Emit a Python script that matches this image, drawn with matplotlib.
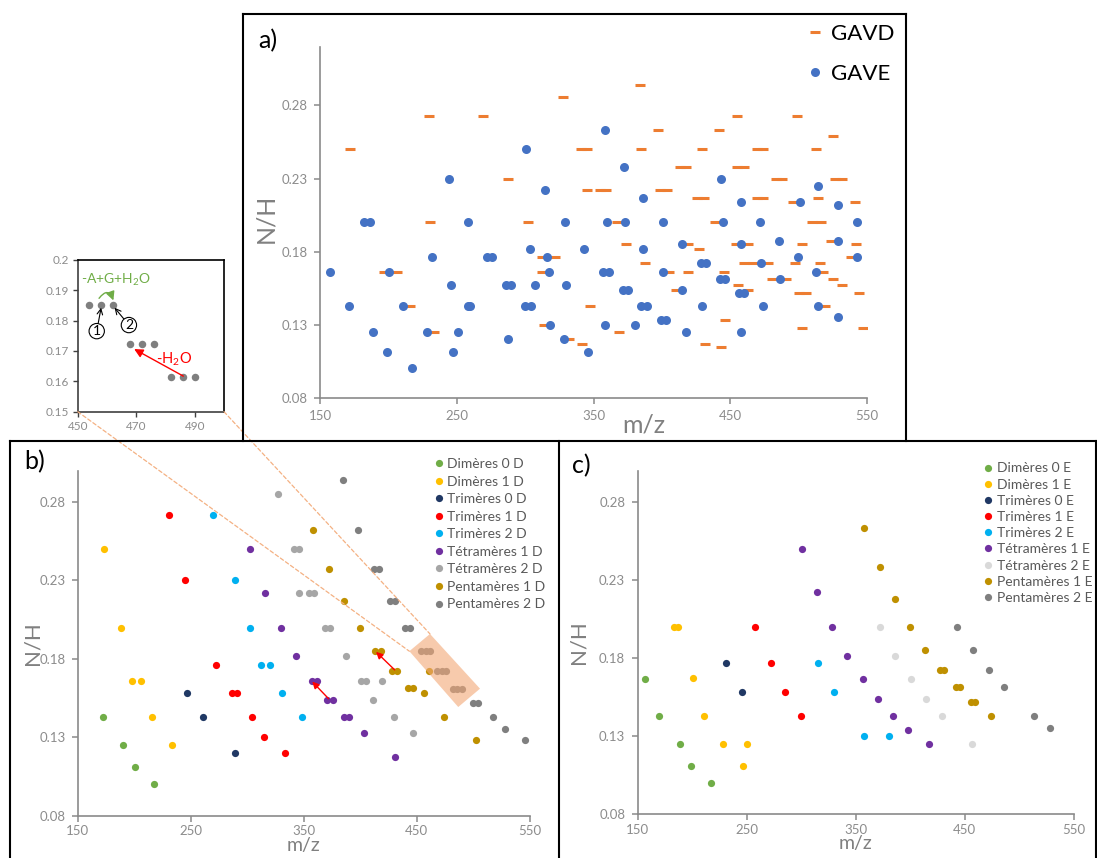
import matplotlib
matplotlib.use("Agg")
import matplotlib.pyplot as plt
from matplotlib.lines import Line2D
from matplotlib.patches import Polygon, FancyArrowPatch, ConnectionPatch

plt.rcParams['font.family'] = ['Lato', 'DejaVu Sans']
plt.rcParams['mathtext.default'] = 'regular'

# ---------------- data ----------------
xticks = [150, 250, 350, 450, 550]
yticks = [0.08, 0.13, 0.18, 0.23, 0.28]

# panel a
gavd_mz = [172, 230, 269.5, 230.5, 287.5, 302, 327.5, 384, 197, 206, 215.5, 233.5,
           340.5, 345.5, 345.5, 354.5, 359.5, 397.5, 385, 398.5, 404, 413.5, 418,
           426, 430.5, 442, 429, 455, 455, 460, 469.5, 474, 469.5, 474, 483.5, 488,
           499, 513, 525.5, 526.5, 532, 514, 496, 541.5, 438.5, 367.5, 510, 516,
           373.5, 419, 454, 463, 502.5, 524, 542, 427.5, 312, 322, 387.5, 460,
           466.5, 477.5, 497.5, 515.5, 538, 312, 405, 419, 445.5, 518, 480.5, 491,
           525.5, 455.5, 531.5, 410, 463, 500.5, 505.5, 544.5, 347.5, 519.5, 313.5,
           446.5, 369, 332, 341.5, 431.5, 443, 502.5, 547]
gavd_nh = [0.250, 0.273, 0.273, 0.200, 0.230, 0.200, 0.2855, 0.294, 0.166, 0.166, 0.143, 0.125,
           0.250, 0.250, 0.222, 0.222, 0.222, 0.263, 0.250, 0.222, 0.222, 0.238, 0.238,
           0.217, 0.217, 0.263, 0.250, 0.273, 0.238, 0.238, 0.250, 0.250, 0.217, 0.217, 0.230, 0.230,
           0.273, 0.250, 0.259, 0.230, 0.230, 0.217, 0.214, 0.214, 0.200, 0.200, 0.200, 0.200,
           0.185, 0.185, 0.185, 0.185, 0.185, 0.187, 0.185, 0.182, 0.176, 0.176, 0.1725, 0.1725,
           0.1725, 0.1725, 0.1725, 0.1725, 0.176, 0.166, 0.166, 0.166, 0.166, 0.166, 0.161, 0.161,
           0.161, 0.157, 0.157, 0.154, 0.154, 0.1515, 0.1515, 0.1515, 0.143, 0.143, 0.130,
           0.133, 0.125, 0.120, 0.117, 0.117, 0.115, 0.128, 0.128]

gave_mz = [157, 171, 182, 186.5, 189, 199, 200.5, 210.5, 217, 228.5, 232, 244, 245.5, 247,
           251, 258, 258, 259.5, 272, 276, 286, 289.5, 287.5, 301, 300, 304, 303.5, 307.5,
           314.5, 316, 317.5, 318, 328.5, 329, 330, 343, 346, 358.5, 357, 361, 358.5, 360,
           372.5, 371.5, 375, 373, 380, 384.5, 389, 386, 386.5, 399.5, 403, 400.5, 401,
           414.5, 415, 417.5, 428.5, 432, 429, 443, 442.5, 446, 444.5, 456.5, 460, 457.5,
           458, 457.5, 471.5, 472.5, 474, 485.5, 486.5, 499.5, 501, 514, 513, 514, 528.5,
           529, 528.5, 542.5, 543]
gave_nh = [0.166, 0.143, 0.200, 0.200, 0.125, 0.111, 0.166, 0.143, 0.100, 0.125, 0.176, 0.230, 0.157, 0.111,
           0.125, 0.200, 0.143, 0.143, 0.176, 0.176, 0.157, 0.157, 0.120, 0.250, 0.143, 0.143, 0.182, 0.157,
           0.222, 0.176, 0.166, 0.130, 0.120, 0.200, 0.157, 0.182, 0.111, 0.263, 0.166, 0.166, 0.130, 0.200,
           0.238, 0.154, 0.154, 0.200, 0.130, 0.143, 0.143, 0.217, 0.182, 0.133, 0.133, 0.200, 0.166,
           0.185, 0.154, 0.125, 0.1725, 0.1725, 0.143, 0.230, 0.161, 0.161, 0.200, 0.1515, 0.1515, 0.214,
           0.185, 0.125, 0.200, 0.1725, 0.143, 0.187, 0.161, 0.176, 0.214, 0.225, 0.166, 0.143, 0.212,
           0.187, 0.135, 0.200, 0.176]

# panel b (D series)
dim0_d_mz = [172, 189.5, 200.5, 217.5]
dim0_d_nh = [0.143, 0.125, 0.111, 0.100]
dim1_d_mz = [173.5, 188, 198, 205.5, 216, 233.5]
dim1_d_nh = [0.250, 0.200, 0.166, 0.166, 0.143, 0.125]
tri0_d_mz = [247, 260.5, 289]
tri0_d_nh = [0.158, 0.143, 0.120]
tri1_d_mz = [231, 244.5, 272.5, 286.5, 290.5, 304.5, 314.5, 333]
tri1_d_nh = [0.272, 0.230, 0.176, 0.158, 0.158, 0.143, 0.130, 0.120]
tri2_d_mz = [270, 289, 302.5, 312, 320.5, 330.5, 348.5]
tri2_d_nh = [0.272, 0.230, 0.200, 0.176, 0.176, 0.158, 0.143]
tet1_d_mz = [302, 315.5, 329.5, 343, 357, 361.5, 371, 375.5, 385.5, 390, 403, 431]
tet1_d_nh = [0.250, 0.222, 0.200, 0.182, 0.166, 0.166, 0.154, 0.154, 0.143, 0.143, 0.133, 0.1175]
tet2_d_mz = [327, 341.5, 346, 345.5, 355, 359.5, 369, 373.5, 387, 400.5, 405, 419.5, 411.5, 429.5, 447]
tet2_d_nh = [0.285, 0.250, 0.250, 0.222, 0.222, 0.222, 0.200, 0.200, 0.182, 0.166, 0.166, 0.166,
             0.154, 0.143, 0.133]
pen1_d_mz = [358.5, 372.5, 386, 400, 413.5, 418, 428.5, 432.5, 442.5, 447, 456.5, 460.5, 474, 502.5]
pen1_d_nh = [0.2625, 0.2375, 0.217, 0.200, 0.185, 0.185, 0.172, 0.172, 0.1615, 0.1615, 0.158,
             0.172, 0.143, 0.128]
pen2_d_mz = [384.5, 398, 412.5, 417, 426.5, 430.5, 440, 444.5, 454, 458, 462, 468, 472, 476,
             482, 486, 490, 500, 504, 518, 528, 546]
pen2_d_nh = [0.294, 0.2625, 0.2375, 0.2375, 0.217, 0.217, 0.200, 0.200, 0.185, 0.185, 0.185,
             0.1725, 0.1725, 0.1725, 0.161, 0.161, 0.161, 0.1518, 0.1518, 0.143, 0.135, 0.128]

# panel c (E series)
dim0_e_mz = [156.5, 170, 189, 198.5, 217]
dim0_e_nh = [0.1668, 0.143, 0.125, 0.111, 0.100]
dim1_e_mz = [183, 187, 200.5, 211, 228.5, 250.5, 247]
dim1_e_nh = [0.200, 0.200, 0.167, 0.143, 0.125, 0.125, 0.111]
tri0_e_mz = [231.5, 245.5]
tri0_e_nh = [0.1766, 0.158]
tri1_e_mz = [258, 272, 285.5, 300]
tri1_e_nh = [0.200, 0.1766, 0.158, 0.143]
tri2_e_mz = [315.5, 330, 358, 380.5]
tri2_e_nh = [0.1766, 0.158, 0.130, 0.130]
tet1_e_mz = [300.5, 314.5, 328.5, 342.5, 356.5, 370.5, 384.5, 398.5, 417]
tet1_e_nh = [0.250, 0.222, 0.200, 0.1815, 0.1668, 0.154, 0.143, 0.1336, 0.125]
tet2_e_mz = [372.5, 386.5, 401, 414.5, 429, 456.5]
tet2_e_nh = [0.200, 0.1815, 0.1668, 0.154, 0.143, 0.125]
pen1_e_mz = [358, 372, 386, 399.5, 413.5, 427.5, 431.5, 442, 445.5, 455.5, 459.5, 474.5]
pen1_e_nh = [0.263, 0.238, 0.2175, 0.200, 0.1853, 0.1723, 0.1723, 0.1613, 0.1613, 0.1515,
             0.1515, 0.143]
pen2_e_mz = [443.5, 458, 472, 486, 513.5, 528]
pen2_e_nh = [0.200, 0.1853, 0.1723, 0.1613, 0.143, 0.1353]

# inset (zoom on pentamers 2 D)
zoom_mz = [454, 458, 462, 468, 472, 476, 482, 486, 490]
zoom_nh = [0.185, 0.185, 0.185, 0.1723, 0.1723, 0.1723, 0.1613, 0.1613, 0.1613]
zoom_xticks = [450, 470, 490]
zoom_yticks = [0.15, 0.16, 0.17, 0.18, 0.19, 0.2]

series_labels = ['Dimères 0', 'Dimères 1', 'Trimères 0', 'Trimères 1', 'Trimères 2',
                 'Tétramères 1', 'Tétramères 2', 'Pentamères 1', 'Pentamères 2']
colors_d = ['#70ad47', '#ffc000', '#203864', '#ff0000', '#00b0f0',
            '#7030a0', '#a6a6a6', '#bf9000', '#7f7f7f']
colors_e = ['#70ad47', '#ffc000', '#203864', '#ff0000', '#00b0f0',
            '#7030a0', '#d9d9d9', '#bf9000', '#7f7f7f']

d_series = [(dim0_d_mz, dim0_d_nh), (dim1_d_mz, dim1_d_nh), (tri0_d_mz, tri0_d_nh),
            (tri1_d_mz, tri1_d_nh), (tri2_d_mz, tri2_d_nh), (tet1_d_mz, tet1_d_nh),
            (tet2_d_mz, tet2_d_nh), (pen1_d_mz, pen1_d_nh), (pen2_d_mz, pen2_d_nh)]
e_series = [(dim0_e_mz, dim0_e_nh), (dim1_e_mz, dim1_e_nh), (tri0_e_mz, tri0_e_nh),
            (tri1_e_mz, tri1_e_nh), (tri2_e_mz, tri2_e_nh), (tet1_e_mz, tet1_e_nh),
            (tet2_e_mz, tet2_e_nh), (pen1_e_mz, pen1_e_nh), (pen2_e_mz, pen2_e_nh)]

# ---------------- figure ----------------
W, H = 1097, 858
fig = plt.figure(figsize=(W / 100, H / 100), dpi=100)


def px_rect(l, t, r, b):
    return [l / W, 1 - b / H, (r - l) / W, (b - t) / H]


def fx(x):
    return x / W


def fy(y):
    return 1 - y / H


AXCOL = '#8a8a8a'
TICKCOL = '#8c8c8c'
LABCOL = '#808080'


def style_axes(ax, ytop):
    ax.set_xlim(150, 550)
    ax.set_ylim(0.08, ytop)
    ax.set_xticks(xticks)
    ax.set_yticks(yticks)
    ax.set_yticklabels(['%.2f' % v for v in yticks])
    for s in ['top', 'right']:
        ax.spines[s].set_visible(False)
    for s in ['left', 'bottom']:
        ax.spines[s].set_color(AXCOL)
        ax.spines[s].set_linewidth(1.2)
    ax.tick_params(direction='out', length=4, width=1.1, color=AXCOL,
                   labelcolor=TICKCOL, labelsize=9.5, pad=5)


ax_a = fig.add_axes(px_rect(320, 47, 867, 397.7))
ax_b = fig.add_axes(px_rect(77.9, 470.7, 529.6, 815.7))
ax_c = fig.add_axes(px_rect(637.7, 470.7, 1073.5, 814))
ax_in = fig.add_axes(px_rect(77.7, 259.7, 224, 411.7))

# ---- panel a
style_axes(ax_a, 0.32)
ax_a.plot(gavd_mz, gavd_nh, ls='none', marker='_', ms=7, mew=2.2, color='#ed7d31', label='GAVD')
ax_a.plot(gave_mz, gave_nh, ls='none', marker='o', ms=6.5, mec='none', color='#4472c4', label='GAVE')
ax_a.set_xlabel('m/z', fontsize=18, color=LABCOL)
ax_a.xaxis.set_label_coords(0.592, -0.078)
ax_a.xaxis.label.set_verticalalignment('center')
ax_a.set_ylabel('N/H', fontsize=18, color=LABCOL)
ax_a.yaxis.set_label_coords(-0.0995, 0.512)
ax_a.yaxis.label.set_verticalalignment('center')
ax_a.legend(loc='upper left', bbox_to_anchor=(fx(806.5), fy(24)), bbox_transform=fig.transFigure,
            frameon=False, fontsize=16, handlelength=0.8, handletextpad=0.3, labelspacing=0.9,
            borderpad=0, borderaxespad=0)

# ---- panels b and c
for ax, series, cols, suffix, leg_pos, pad, spacing in [
        (ax_b, d_series, colors_d, 'D', (434.4, 458.0), 0.29, 0.40),
        (ax_c, e_series, colors_e, 'E', (983.8, 462.5), 0.35, 0.30)]:
    style_axes(ax, 0.30)
    ax.tick_params(axis='x', pad=3)
    for (mz, nh), col, lab in zip(series, cols, series_labels):
        ax.plot(mz, nh, ls='none', marker='o', ms=5.2, mec='none', color=col,
                label=lab + ' ' + suffix)
    ax.set_xlabel('m/z', fontsize=14, color=LABCOL)
    ax.xaxis.label.set_verticalalignment('top')
    ax.set_ylabel('N/H', fontsize=16, color=LABCOL)
    ax.yaxis.label.set_verticalalignment('center')
    ax.legend(loc='upper left', bbox_to_anchor=(fx(leg_pos[0]), fy(leg_pos[1])),
              bbox_transform=fig.transFigure, frameon=False, fontsize=10,
              labelcolor='#595959', handlelength=0.6, handletextpad=pad,
              labelspacing=spacing, borderpad=0, borderaxespad=0)

ax_b.xaxis.set_label_coords(0.5, -0.061)
ax_b.yaxis.set_label_coords(-0.1016, 0.50)
ax_c.xaxis.set_label_coords(0.5, -0.062)
ax_c.yaxis.set_label_coords(-0.1356, 0.502)

# highlighted cluster in panel b
box = Polygon([(461.8, 0.1959), (443.5, 0.1849), (486.8, 0.1493), (506.1, 0.161)],
              closed=True, fc='#f3a876', ec='none', alpha=0.6, zorder=5)
ax_b.add_patch(box)

# red arrows in panel b
for tail, head in [((372, 0.1546), (357.5, 0.1655)), ((430.5, 0.173), (414, 0.1845))]:
    ax_b.annotate('', xy=head, xytext=tail,
                  arrowprops=dict(arrowstyle='-|>', color='#ff0000', lw=1.0,
                                  mutation_scale=10, shrinkA=0, shrinkB=0), zorder=6)

# ---- inset
ax_in.set_xlim(450, 500)
ax_in.set_ylim(0.15, 0.2)
ax_in.set_xticks(zoom_xticks)
ax_in.set_yticks(zoom_yticks)
ax_in.set_yticklabels(['%g' % v for v in zoom_yticks])
for s in ['top', 'right']:
    ax_in.spines[s].set_color('black')
for s in ['left', 'bottom']:
    ax_in.spines[s].set_color('#404040')
for s in ax_in.spines.values():
    s.set_linewidth(1.2)
ax_in.tick_params(direction='out', length=3.5, width=1, color='#404040',
                  labelcolor=TICKCOL, labelsize=8.5, pad=3)
ax_in.plot(zoom_mz, zoom_nh, ls='none', marker='o', ms=5.4, mec='none', color='#7f7f7f')

green = '#70ad47'
ax_in.text(463.1, 0.1935, '-A+G+H$_2$O', color=green, fontsize=10, ha='center', va='center')
ax_in.add_patch(FancyArrowPatch((457.3, 0.1873), (462.2, 0.1866),
                                connectionstyle='arc3,rad=-0.9', arrowstyle='-|>',
                                mutation_scale=13, color=green, lw=1.0,
                                shrinkA=0, shrinkB=0))
for num, txt_pos, target in [('1', (456.5, 0.1765), (458, 0.1842)),
                             ('2', (467.5, 0.1785), (462.6, 0.1842))]:
    ax_in.annotate(num, xy=target, xytext=txt_pos, ha='center', va='center', fontsize=10,
                   bbox=dict(boxstyle='circle,pad=0.12', fc='white', ec='black', lw=0.8),
                   arrowprops=dict(arrowstyle='->', color='black', lw=0.8,
                                   shrinkA=0, shrinkB=0))
ax_in.annotate('', xy=(469.3, 0.1706), xytext=(486.1, 0.1617),
               arrowprops=dict(arrowstyle='-|>', color='#ff0000', lw=1.0,
                               mutation_scale=13, shrinkA=0, shrinkB=0))
ax_in.text(483, 0.1672, '-H$_2$O', color='#ff0000', fontsize=10.5, ha='center', va='center')

# dashed connectors inset -> highlighted box
for pa, pb in [((450, 0.15), (443.5, 0.1849)), ((500, 0.15), (461.8, 0.1959))]:
    con = ConnectionPatch(xyA=pa, coordsA=ax_in.transData, xyB=pb, coordsB=ax_b.transData,
                          color='#f4b183', lw=0.9, ls=(0, (3, 2)))
    fig.add_artist(con)

# ---- panel frames
frame_lines = [
    [(243, 441), (243, 14)], [(243, 14), (906, 14)], [(906, 14), (906, 441)],
    [(10, 441), (1097, 441)], [(10, 441), (10, 858)], [(559, 441), (559, 858)],
    [(1095.5, 441), (1095.5, 858)],
]
for (x0, y0), (x1, y1) in frame_lines:
    fig.add_artist(Line2D([fx(x0), fx(x1)], [fy(y0), fy(y1)], transform=fig.transFigure,
                          color='black', lw=1.5))

for lab, (x, y) in [('a)', (268, 41)), ('b)', (35, 462)), ('c)', (581, 466))]:
    fig.text(fx(x), fy(y), lab, fontsize=18, ha='center', va='center', color='black')

fig.savefig('out.png', dpi=100)
